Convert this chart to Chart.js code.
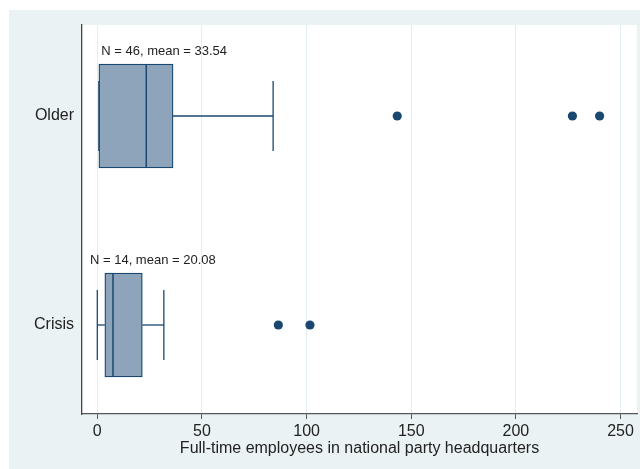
<!DOCTYPE html>
<html lang="en">
<head>
<meta charset="UTF-8">
<title>Party headquarters staff</title>
<script src="https://cdn.jsdelivr.net/npm/chart.js"></script>
<style>
  html, body { margin: 0; padding: 0; background: #fff; }
  #wrap { width: 640px; height: 469px; }
</style>
</head>
<body>
<div id="wrap"><canvas id="chart" width="640" height="469"></canvas></div>
<script>
// groups, top to bottom
const groups = ["Older", "Crisis"];
const groupPos = [1, 2];
const counts = [46, 14];
const means = [33.54, 20.08];
// box plot values
const lowWhisker = [0.75, 0];
const q1 = [0.75, 3.6];
const median = [23.4, 7.5];
const q3 = [36.2, 21.5];
const highWhisker = [84, 31.8];
const outliers = [[143.3, 227, 240], [86.5, 101.6]];
const xTicks = [0, 50, 100, 150, 200, 250];

const navy = "#1a476f";
const font = "'Liberation Sans', Arial, sans-serif";

let datasets = [];
// medians on top
datasets.push({
    type: "scatter", label: "median",
    data: groups.map((g, i) => ({ x: median[i], y: groupPos[i] })),
    pointStyle: "line", rotation: 90, pointRadius: 52,
    borderColor: navy, borderWidth: 1.5, order: 0
});
datasets.push({
    type: "scatter", label: "outliers",
    data: outliers.flatMap((o, i) => o.map(v => ({ x: v, y: groupPos[i] }))),
    pointRadius: 4.6, backgroundColor: navy, borderWidth: 0, order: 1
});
datasets.push({
    type: "scatter", label: "caps",
    data: groups.flatMap((g, i) => [
        { x: lowWhisker[i], y: groupPos[i] },
        { x: highWhisker[i], y: groupPos[i] }
    ]),
    pointStyle: "line", rotation: 90, pointRadius: 35,
    borderColor: navy, borderWidth: 1.3, order: 2
});
groups.forEach((g, i) => {
    datasets.push({
        type: "line", label: "low " + g,
        data: [{ x: lowWhisker[i], y: groupPos[i] }, { x: q1[i], y: groupPos[i] }],
        borderColor: navy, borderWidth: 1.3, pointRadius: 0, order: 3
    });
    datasets.push({
        type: "line", label: "high " + g,
        data: [{ x: q3[i], y: groupPos[i] }, { x: highWhisker[i], y: groupPos[i] }],
        borderColor: navy, borderWidth: 1.3, pointRadius: 0, order: 3
    });
});
datasets.push({
    type: "bar", label: "box",
    data: groups.map((g, i) => ({ x: [q1[i], q3[i]], y: groupPos[i] })),
    backgroundColor: "#8ea4bb", borderColor: navy, borderWidth: 1.3,
    borderSkipped: false, barThickness: 104, order: 5
});

// stata-like backdrop and the N / mean notes
const paper = {
    id: "paper",
    beforeDraw(chart) {
        const { ctx, chartArea: a } = chart;
        ctx.save();
        ctx.fillStyle = "#fff";
        ctx.fillRect(0, 0, chart.width, chart.height);
        ctx.fillStyle = "#eaf2f3";
        ctx.fillRect(9, 10, chart.width - 9, chart.height - 10);
        ctx.fillStyle = "#fff";
        ctx.fillRect(a.left, a.top, a.right - a.left, a.bottom - a.top);
        ctx.restore();
    },
    afterDatasetsDraw(chart) {
        const noteX = [1.9, -3.5];
        const { ctx, scales: { x, y } } = chart;
        ctx.save();
        ctx.font = "13px " + font;
        ctx.fillStyle = "#222";
        ctx.textBaseline = "alphabetic";
        groups.forEach((g, i) => {
            let txt = "N = " + counts[i] + ", mean = " + means[i].toFixed(2);
            ctx.fillText(txt, x.getPixelForValue(noteX[i]), y.getPixelForValue(groupPos[i]) - 61);
        });
        ctx.restore();
    }
};

new Chart(document.getElementById("chart"), {
    type: "bar",
    data: { datasets: datasets },
    plugins: [paper],
    options: {
        responsive: false,
        animation: false,
        indexAxis: "y",
        layout: { autoPadding: false, padding: { top: 25, right: 3, left: 0, bottom: 0 } },
        plugins: { legend: { display: false }, tooltip: { enabled: false } },
        scales: {
            x: {
                type: "linear", position: "bottom",
                min: -7.31, max: 257.86,
                afterBuildTicks: s => { s.ticks = xTicks.map(v => ({ value: v })); },
                afterFit: s => { s.height = 55; },
                grid: { color: "#e4eef0", lineWidth: 1, tickColor: "#555", tickLength: 5 },
                border: { color: "#555", width: 1.3 },
                ticks: { color: "#222", padding: 3, font: { family: font, size: 16 }, maxRotation: 0 },
                title: {
                    display: true, text: "Full-time employees in national party headquarters",
                    color: "#222", font: { family: font, size: 16 }, padding: { top: 0, bottom: 11 }
                }
            },
            y: {
                type: "linear", position: "left", reverse: true, offset: false,
                min: 0.5646, max: 2.4258,
                afterBuildTicks: s => { s.ticks = groupPos.map(v => ({ value: v })); },
                afterFit: s => { s.width = 82; },
                grid: { display: false, drawTicks: false },
                border: { color: "#444", width: 1.3 },
                ticks: {
                    color: "#222", padding: 8, font: { family: font, size: 16 },
                    callback: v => groups[groupPos.indexOf(v)] || ""
                }
            }
        }
    }
});
</script>
</body>
</html>
